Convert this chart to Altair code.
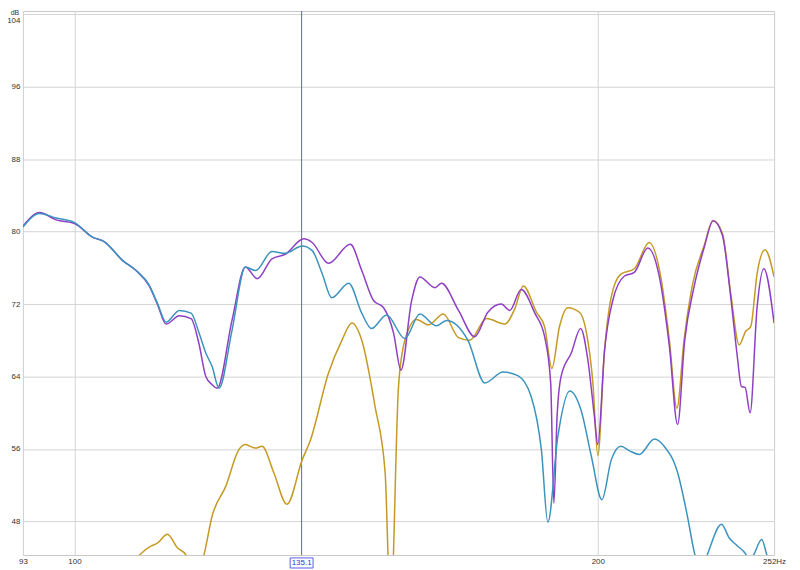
import altair as alt
import pandas as pd

# ---- data (frequency in Hz, level in dB) ----
teal_f = [93.4, 95.5, 97.6, 100.0, 102.4, 104.0, 106.6, 108.5, 110.4, 111.6, 112.9, 114.9, 116.7, 117.9, 119.0,
          120.0, 121.1, 123.2, 125.4, 127.1, 129.9, 132.2, 135.2, 137.0, 138.8, 140.6, 143.8, 146.3, 148.2, 151.2,
          154.9, 158.0, 161.5, 163.7, 168.4, 172.2, 176.4, 179.9, 183.1, 185.6, 187.2, 189.7, 192.7, 195.6, 198.3,
          201.1, 203.6, 206.2, 208.6, 211.3, 215.6, 218.4, 222.3, 225.2, 227.4, 229.3, 231.3, 235.6, 238.0, 240.6,
          243.3, 244.6, 246.0, 248.5, 250.1, 252.6]
teal_db = [80.5, 82.0, 81.5, 81.0, 79.4, 78.9, 76.8, 75.7, 74.1, 72.1, 70.0, 71.3, 71.0, 68.9, 66.6,
           65.1, 62.7, 69.1, 76.1, 75.7, 77.8, 77.6, 78.4, 77.9, 75.4, 72.7, 74.3, 71.0, 69.3, 70.8,
           68.2, 70.9, 69.6, 70.2, 68.0, 63.3, 64.5, 64.1, 61.8, 55.9, 47.9, 57.4, 62.4, 60.3, 55.2,
           50.4, 54.8, 56.3, 55.8, 55.4, 57.1, 56.3, 53.4, 48.6, 44.4, 42.5, 44.4, 47.7, 46.2, 45.3,
           44.4, 43.5, 44.4, 46.0, 44.4, 41.0]

purple_f = [93.4, 95.5, 97.6, 100.0, 102.4, 104.0, 106.6, 108.5, 110.4, 111.6, 112.9, 114.9, 116.7, 117.9, 119.0,
            120.0, 120.8, 123.2, 125.4, 127.4, 129.9, 132.2, 135.5, 137.0, 140.0, 144.1, 146.3, 148.6, 150.6, 152.6,
            154.1, 156.3, 158.0, 161.2, 162.6, 166.3, 169.9, 172.9, 176.0, 178.0, 180.7, 184.0, 186.4, 187.9, 188.7,
            189.5, 190.5, 193.1, 195.5, 197.4, 199.1, 200.0, 201.8, 204.0, 207.2, 209.9, 213.7, 217.0, 219.9, 222.3,
            224.4, 227.2, 230.3, 233.0, 235.9, 238.5, 240.6, 241.9, 243.1, 244.7, 247.0, 249.2, 252.6]
purple_db = [80.6, 82.1, 81.3, 80.9, 79.4, 78.9, 76.8, 75.7, 74.0, 72.0, 69.8, 70.7, 70.4, 67.7, 64.0,
             63.1, 62.7, 70.2, 76.1, 74.8, 77.0, 77.5, 79.2, 78.8, 76.5, 78.6, 75.7, 72.4, 71.6, 68.8,
             64.7, 72.4, 75.0, 73.8, 74.3, 71.3, 68.4, 71.1, 72.0, 71.3, 73.6, 71.0, 68.4, 63.3, 50.0,
             59.6, 64.0, 66.6, 69.3, 65.8, 59.6, 56.5, 66.9, 72.4, 75.1, 75.5, 78.2, 75.0, 67.3, 58.7,
             68.0, 73.9, 78.3, 81.2, 79.6, 72.8, 66.2, 62.9, 62.8, 60.0, 71.7, 75.9, 69.9]

gold_f = [93.4, 100.0, 105.0, 109.0, 110.7, 111.6, 113.1, 114.6, 115.9, 117.3, 118.7, 120.0, 122.2, 124.3, 125.4,
          127.1, 128.2, 130.2, 132.5, 135.2, 136.7, 140.0, 142.5, 144.4, 146.3, 148.9, 150.9, 152.0, 153.6, 154.9,
          157.3, 159.8, 163.0, 166.3, 168.8, 172.6, 176.8, 179.2, 181.2, 184.4, 186.4, 188.2, 190.1, 192.2, 195.2,
          196.9, 198.7, 200.0, 201.8, 203.6, 206.2, 209.9, 214.1, 217.4, 219.9, 222.1, 224.2, 226.7, 230.3, 233.0,
          235.9, 238.5, 241.2, 243.3, 244.9, 247.0, 249.6, 252.6]
gold_db = [30.0, 34.0, 39.0, 44.3, 45.3, 45.6, 46.6, 45.1, 44.3, 41.5, 44.3, 48.6, 51.9, 55.9, 56.5,
           56.1, 56.3, 53.4, 49.9, 54.8, 57.0, 64.4, 68.0, 69.9, 68.0, 60.7, 53.4, 38.0, 62.9, 68.0,
           70.3, 69.7, 70.9, 68.3, 68.0, 70.4, 69.8, 71.5, 74.0, 71.1, 69.5, 64.9, 69.5, 71.6, 71.1,
           69.1, 63.3, 55.3, 66.9, 72.8, 75.3, 75.9, 78.8, 75.0, 68.0, 60.5, 68.0, 74.1, 78.5, 81.2,
           79.8, 73.2, 67.5, 69.0, 69.5, 75.4, 78.0, 75.0]

cursor_f = [135.1]
cursor_label = ["135.1"]
x_ticks = [93.4, 100, 200, 252.6]
y_ticks = [48, 56, 64, 72, 80, 88, 96, 104]
x_domain = [93.4, 252.6]
y_domain = [44.3, 104.35]

PURPLE = "#8f3fc4"
TEAL = "#3b93bf"
GOLD = "#c49a22"
CURSOR = "#5c5cf0"
GRID = "#d4d4d4"
FONT = "Liberation Sans"

W, H = 754, 546

x_scale = alt.Scale(type="log", domain=x_domain, nice=False)
y_scale = alt.Scale(domain=y_domain, nice=False, zero=False)

x_axis = alt.Axis(values=x_ticks, grid=True, gridColor=GRID, ticks=False, domain=False, title=None,
                  labelFontSize=8, labelFont=FONT, labelColor="#333333", labelPadding=3,
                  labelFlush=False, labelOverlap=False,
                  labelExpr="datum.value < 95 ? '93' : (datum.value > 250 ? '252Hz' : format(datum.value, 'd'))")
y_axis = alt.Axis(values=y_ticks, grid=True, gridColor=GRID, ticks=False, domain=False, title=None,
                  labelFontSize=8, labelFont=FONT, labelColor="#333333", labelPadding=3,
                  labelBaseline={"condition": {"test": "datum.value == 104", "value": "top"}, "value": "middle"},
                  labelOffset={"condition": {"test": "datum.value == 104", "value": 2.5}, "value": 0})

X = alt.X("f:Q", scale=x_scale, axis=x_axis)
Y = alt.Y("db:Q", scale=y_scale, axis=y_axis)


def line(f, db, color):
    df = pd.DataFrame({"f": f, "db": db})
    return alt.Chart(df).mark_line(color=color, strokeWidth=1.5, interpolate="monotone", clip=True).encode(
        x=X, y=Y, order=alt.Order("f:Q"))


cur_df = pd.DataFrame({"f": cursor_f, "label": cursor_label})
cursor = alt.Chart(cur_df).mark_rule(color=CURSOR, strokeWidth=1).encode(x=X)

box = alt.Chart(cur_df).mark_point(
    shape="M-1,-0.44L1,-0.44L1,0.44L-1,0.44Z", size=529, filled=True, fill="white",
    stroke=CURSOR, strokeWidth=1, opacity=1, clip=False).encode(x=X, y=alt.value(H + 8))

box_text = alt.Chart(cur_df).mark_text(color="#3434d8", fontSize=8, font=FONT, baseline="middle",
                                      align="center", dy=0.5).encode(
    x=X, y=alt.value(H + 8), text="label:N")

unit = alt.Chart(pd.DataFrame({"t": ["dB"]})).mark_text(
    fontSize=7, font=FONT, color="#333333", baseline="top", align="center").encode(
    x=alt.value(-8), y=alt.value(-2), text="t:N")

chart = alt.layer(
    cursor,
    line(gold_f, gold_db, GOLD),
    line(purple_f, purple_db, PURPLE),
    line(teal_f, teal_db, TEAL),
    box, box_text, unit,
).properties(
    width=W, height=H,
    autosize=alt.AutoSizeParams(type="none"),
    padding={"left": 15, "top": 2, "right": 18, "bottom": 13},
).configure_view(stroke="#c8c8c8", strokeWidth=1)

chart.save("out.html", embed_options={"renderer": "svg", "actions": False})
